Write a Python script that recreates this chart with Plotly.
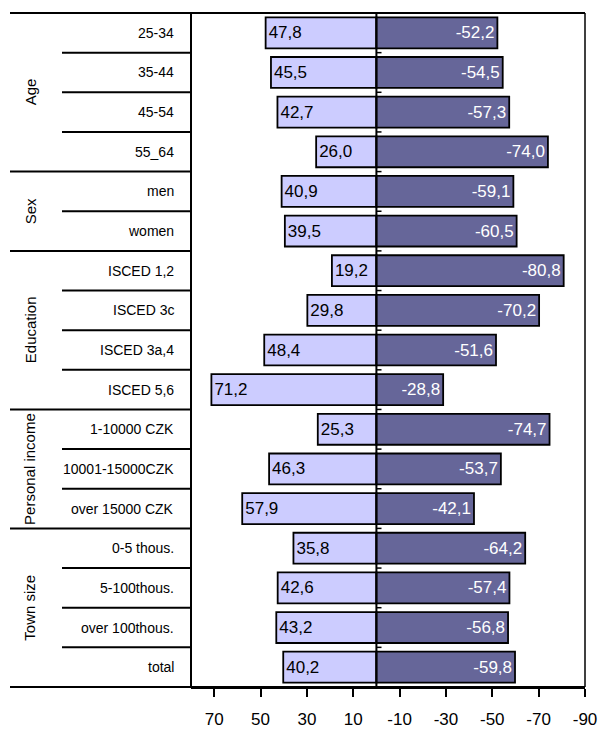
import plotly.graph_objects as go

categories = ["25-34", "35-44", "45-54", "55_64", "men", "women",
              "ISCED 1,2", "ISCED 3c", "ISCED 3a,4", "ISCED 5,6",
              "1-10000 CZK", "10001-15000CZK", "over 15000 CZK",
              "0-5 thous.", "5-100thous.", "over 100thous.", "total"]
groups = ["Age", "Sex", "Education", "Personal income", "Town size"]
group_sizes = [4, 2, 4, 3, 4]
positive = [47.8, 45.5, 42.7, 26.0, 40.9, 39.5, 19.2, 29.8, 48.4, 71.2,
            25.3, 46.3, 57.9, 35.8, 42.6, 43.2, 40.2]
negative = [-52.2, -54.5, -57.3, -74.0, -59.1, -60.5, -80.8, -70.2, -51.6, -28.8,
            -74.7, -53.7, -42.1, -64.2, -57.4, -56.8, -59.8]
tick_vals = [70, 50, 30, 10, -10, -30, -50, -70, -90]

W, H = 599, 732
L, R, T, B = 191, 585, 13, 687
pw = R - L


def px(x):
    return (x - L) / pw


def fmt(v):
    return f"{v:.1f}".replace(".", ",")


FONT = "Liberation Sans, Arial, sans-serif"

fig = go.Figure()
fig.add_trace(go.Bar(
    y=categories, x=positive, orientation="h", width=0.78,
    marker=dict(color="#CCCCFF", line=dict(color="black", width=1.8)),
    text=[fmt(v) for v in positive], textposition="inside",
    insidetextanchor="end", textangle=0, constraintext="none",
    insidetextfont=dict(family=FONT, size=17, color="black"),
    hoverinfo="skip", showlegend=False,
))
fig.add_trace(go.Bar(
    y=categories, x=negative, orientation="h", width=0.78,
    marker=dict(color="#666699", line=dict(color="black", width=1.8)),
    text=[fmt(v) for v in negative], textposition="inside",
    insidetextanchor="end", textangle=0, constraintext="none",
    insidetextfont=dict(family=FONT, size=17, color="white"),
    hoverinfo="skip", showlegend=False,
))

shapes = []
n = len(categories)
shapes.append(dict(type="line", xref="x", yref="paper", x0=0, x1=0, y0=0, y1=1,
                   line=dict(color="black", width=2)))
for k in range(1, n):
    shapes.append(dict(type="line", xref="x", yref="y", x0=0, x1=-2.2,
                       y0=k - 0.5, y1=k - 0.5, line=dict(color="black", width=1.5)))
shapes.append(dict(type="line", xref="paper", yref="paper", x0=1, x1=1, y0=0, y1=1,
                   line=dict(color="black", width=1.5)))
shapes.append(dict(type="line", xref="paper", yref="paper", x0=0, x1=0, y0=0, y1=1,
                   line=dict(color="black", width=2)))
for yy in (0, 1):
    shapes.append(dict(type="line", xref="paper", yref="paper", x0=px(10), x1=1,
                       y0=yy, y1=yy, line=dict(color="black", width=2)))
annotations = []
start = 0
for g, size in zip(groups, group_sizes):
    end = start + size
    if end == n - 1:
        end = n
    for k in range(start + 1, end):
        shapes.append(dict(type="line", xref="paper", yref="y", x0=px(62), x1=0,
                           y0=k - 0.5, y1=k - 0.5, line=dict(color="black", width=2)))
    if end < n:
        shapes.append(dict(type="line", xref="paper", yref="y", x0=px(10), x1=0,
                           y0=end - 0.5, y1=end - 0.5, line=dict(color="black", width=2)))
    annotations.append(dict(xref="paper", yref="y", x=px(30), y=(start + end - 1) / 2,
                            text=g, textangle=-90, showarrow=False,
                            font=dict(family=FONT, size=15, color="black"),
                            xanchor="center", yanchor="middle"))
    start = end

for i, c in enumerate(categories):
    annotations.append(dict(xref="paper", yref="y", x=px(176), y=i, text=c,
                            showarrow=False, xanchor="right", yanchor="middle",
                            font=dict(family=FONT, size=14, color="black")))

fig.update_layout(
    width=W, height=H,
    margin=dict(l=L, r=W - R, t=T, b=H - B, pad=0, autoexpand=False),
    paper_bgcolor="white", plot_bgcolor="white",
    barmode="relative", bargap=0.22,
    font=dict(family=FONT, size=17, color="black"),
    shapes=shapes, annotations=annotations,
    xaxis=dict(range=[80, -90], tickvals=tick_vals,
               ticktext=[str(v) for v in tick_vals],
               ticks="outside", ticklen=8, tickwidth=2, tickcolor="black",
               showline=True, linecolor="black", linewidth=2,
               showgrid=False, zeroline=False, ticklabelstandoff=8,
               automargin=False,
               tickfont=dict(family=FONT, size=17, color="black")),
    yaxis=dict(categoryorder="array", categoryarray=categories,
               range=[n - 0.5, -0.5], showticklabels=False, ticks="",
               showgrid=False, zeroline=False, showline=False,
               automargin=False),
)

fig.write_html("out.html")
